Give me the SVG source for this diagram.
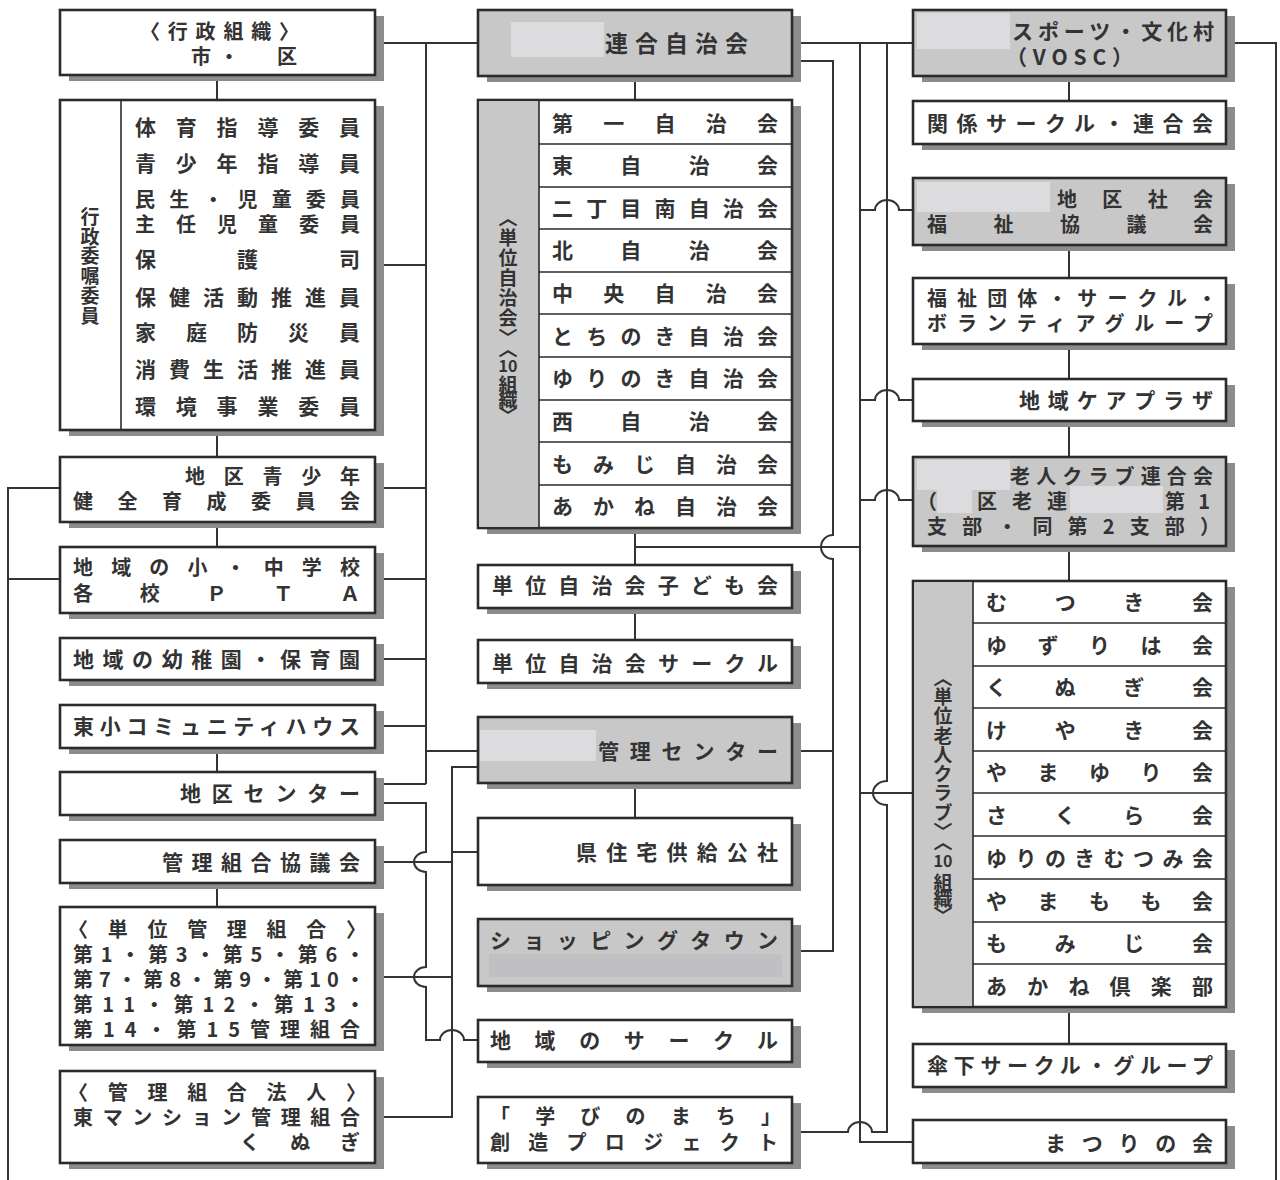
<svg xmlns="http://www.w3.org/2000/svg" width="1280" height="1180" viewBox="0 0 1280 1180">
<style>
.sh{fill:#8c8c8c}
.bx{fill:#ffffff;stroke:#2b2b2b;stroke-width:2.6}
.gx{fill:#c8c8c8;stroke:#2b2b2b;stroke-width:2.6}
.gc{fill:#c8c8c8;stroke:none}
.dv{stroke:#2b2b2b;stroke-width:1.6;fill:none}
.mk{fill:#dcdcde}
.t{font-family:"Noto Sans CJK JP","Noto Sans CJK SC",sans-serif;font-size:21px;font-weight:700;fill:#333}
.m{font-family:"Noto Sans CJK JP","Noto Sans CJK SC",sans-serif;font-size:20px;font-weight:700;fill:#333}
.v{font-family:"Noto Sans CJK JP","Noto Sans CJK SC",sans-serif;font-size:19px;font-weight:700;fill:#333;writing-mode:vertical-rl}
.n{font-family:"Noto Sans CJK JP","Noto Sans CJK SC",sans-serif;font-size:16px;font-weight:700;fill:#333;text-anchor:middle}
.c{fill:none;stroke:#333;stroke-width:2}
</style>
<rect width="1280" height="1180" fill="#ffffff"/>

<g id="connectors" class="c">
<path d="M217,75V100M217,430V457M217,522V547M217,748V772M217,883V907"/>
<path d="M375,43H478M426,43V784M375,265H426M375,488H426M375,579H426M375,659H426M375,726H426M375,784H426M426,751H478"/>
<path d="M60,488H8V1180M60,579H8"/>
<path d="M375,803H426V852A12 10 0 0 0 426,872V967A12 10 0 0 0 426,987V1040H440A12 10 0 0 1 464,1040H478"/>
<path d="M478,767H452V1117H375M452,852H478M375,862H452M375,977H452"/>
<path d="M635,76V100M635,528V565M635,547H860M635,608V640M635,783V818"/>
<path d="M792,43H913M792,61H833V535A12 12 0 0 0 833,559V951H792M792,751H833"/>
<path d="M860,43V1142H913"/>
<path d="M887,43V781A14 12 0 0 0 887,805V1132H872A12 10 0 0 0 848,1132H792"/>
<path d="M860,210H875A12 10 0 0 1 899,210H913M860,400H875A12 10 0 0 1 899,400H913M860,500H875A12 10 0 0 1 899,500H913M860,793H913"/>
<path d="M1069,76V101M1069,245V278M1069,344V379M1069,421V457M1069,546V581M1069,1007V1044"/>
<path d="M1226,43H1276V1180"/>
</g>

<!-- Left column -->
<g id="gyosei">
<rect class="sh" x="69" y="16" width="315" height="65"/>
<rect class="bx" x="60" y="10" width="315" height="65"/>
<text class="m"><tspan x="140" y="39" textLength="159" lengthAdjust="spacing">〈行政組織〉</tspan><tspan x="191" y="64">市</tspan><tspan x="219" y="64">・</tspan><tspan x="277" y="64">区</tspan></text>
</g>
<g id="ishoku">
<rect class="sh" x="69" y="106" width="315" height="330"/>
<rect class="bx" x="60" y="100" width="315" height="330"/>
<line class="dv" x1="121" y1="100" x2="121" y2="430"/>
<text class="v" x="90" y="207" textLength="118" lengthAdjust="spacing">行政委嘱委員</text>
<text class="t" x="135" y="135" textLength="225" lengthAdjust="spacing">体育指導委員</text>
<text class="t" x="135" y="171" textLength="225" lengthAdjust="spacing">青少年指導員</text>
<text class="m"><tspan x="135" y="207" textLength="225" lengthAdjust="spacing">民生・児童委員</tspan><tspan x="135" y="232" textLength="225" lengthAdjust="spacing">主任児童委員</tspan></text>
<text class="t" x="135" y="267" textLength="225" lengthAdjust="spacing">保護司</text>
<text class="t" x="135" y="305" textLength="225" lengthAdjust="spacing">保健活動推進員</text>
<text class="t" x="135" y="340" textLength="225" lengthAdjust="spacing">家庭防災員</text>
<text class="t" x="135" y="377" textLength="225" lengthAdjust="spacing">消費生活推進員</text>
<text class="t" x="135" y="414" textLength="225" lengthAdjust="spacing">環境事業委員</text>
</g>
<g id="seishonen">
<rect class="sh" x="69" y="463" width="315" height="65"/>
<rect class="bx" x="60" y="457" width="315" height="65"/>
<text class="m"><tspan x="185" y="484" textLength="175" lengthAdjust="spacing">地区青少年</tspan><tspan x="73" y="509" textLength="287" lengthAdjust="spacing">健全育成委員会</tspan></text>
</g>
<g id="gakko">
<rect class="sh" x="69" y="553" width="315" height="66"/>
<rect class="bx" x="60" y="547" width="315" height="66"/>
<text class="m"><tspan x="73" y="575" textLength="287" lengthAdjust="spacing">地域の小・中学校</tspan><tspan x="73" y="601" textLength="287" lengthAdjust="spacing">各校ＰＴＡ</tspan></text>
</g>
<g id="yochien">
<rect class="sh" x="69" y="644" width="315" height="42"/>
<rect class="bx" x="60" y="638" width="315" height="42"/>
<text class="t" x="73" y="667" textLength="287" lengthAdjust="spacing">地域の幼稚園・保育園</text>
</g>
<g id="community">
<rect class="sh" x="69" y="711" width="315" height="43"/>
<rect class="bx" x="60" y="705" width="315" height="43"/>
<text class="t" x="73" y="734" textLength="287" lengthAdjust="spacing">東小コミュニティハウス</text>
</g>
<g id="chiku-center">
<rect class="sh" x="69" y="778" width="315" height="43"/>
<rect class="bx" x="60" y="772" width="315" height="43"/>
<text class="t" x="180" y="801" textLength="180" lengthAdjust="spacing">地区センター</text>
</g>
<g id="kanri-kyogikai">
<rect class="sh" x="69" y="846" width="315" height="43"/>
<rect class="bx" x="60" y="840" width="315" height="43"/>
<text class="t" x="162" y="870" textLength="198" lengthAdjust="spacing">管理組合協議会</text>
</g>
<g id="tani-kanri">
<rect class="sh" x="69" y="913" width="315" height="138"/>
<rect class="bx" x="60" y="907" width="315" height="138"/>
<text class="m"><tspan x="68" y="937" textLength="298" lengthAdjust="spacing">〈単位管理組合〉</tspan><tspan x="73" y="962" textLength="292" lengthAdjust="spacing">第1・第3・第5・第6・</tspan><tspan x="73" y="987" textLength="292" lengthAdjust="spacing">第7・第8・第9・第10・</tspan><tspan x="73" y="1012" textLength="292" lengthAdjust="spacing">第11・第12・第13・</tspan><tspan x="73" y="1037" textLength="287" lengthAdjust="spacing">第14・第15管理組合</tspan></text>
</g>
<g id="kanri-hojin">
<rect class="sh" x="69" y="1077" width="315" height="92"/>
<rect class="bx" x="60" y="1071" width="315" height="92"/>
<text class="m"><tspan x="68" y="1100" textLength="298" lengthAdjust="spacing">〈管理組合法人〉</tspan><tspan x="73" y="1125" textLength="287" lengthAdjust="spacing">東マンション管理組合</tspan><tspan x="240" y="1150" textLength="120" lengthAdjust="spacing">くぬぎ</tspan></text>
</g>

<!-- Center column -->
<g id="rengo-jichikai">
<rect class="sh" x="487" y="16" width="314" height="66"/>
<rect class="gx" x="478" y="10" width="314" height="66"/>
<rect class="mk" x="511" y="22" width="93" height="35"/>
<text class="t" x="605" y="52" textLength="143" lengthAdjust="spacing" style="font-size:23px">連合自治会</text>
</g>
<g id="tani-jichikai">
<rect class="sh" x="487" y="106" width="314" height="428"/>
<rect class="bx" x="478" y="100" width="314" height="428"/>
<rect class="gc" x="479.3" y="101.3" width="59.7" height="425.4"/>
<path class="dv" d="M539,100V528M539,144H792M539,187H792M539,229H792M539,272H792M539,314H792M539,357H792M539,400H792M539,442H792M539,485H792"/>
<text class="v" x="508" y="208" textLength="150" lengthAdjust="spacing">〈単位自治会〉〈</text>
<text class="n" x="508" y="372">10</text>
<text class="v" x="508" y="375" textLength="50" lengthAdjust="spacing">組織〉</text>
<text class="t" x="552" y="131" textLength="226" lengthAdjust="spacing">第一自治会</text>
<text class="t" x="552" y="173" textLength="226" lengthAdjust="spacing">東自治会</text>
<text class="t" x="552" y="216" textLength="226" lengthAdjust="spacing">二丁目南自治会</text>
<text class="t" x="552" y="258" textLength="226" lengthAdjust="spacing">北自治会</text>
<text class="t" x="552" y="301" textLength="226" lengthAdjust="spacing">中央自治会</text>
<text class="t" x="552" y="344" textLength="226" lengthAdjust="spacing">とちのき自治会</text>
<text class="t" x="552" y="386" textLength="226" lengthAdjust="spacing">ゆりのき自治会</text>
<text class="t" x="552" y="429" textLength="226" lengthAdjust="spacing">西自治会</text>
<text class="t" x="552" y="472" textLength="226" lengthAdjust="spacing">もみじ自治会</text>
<text class="t" x="552" y="514" textLength="226" lengthAdjust="spacing">あかね自治会</text>
</g>
<g id="kodomokai">
<rect class="sh" x="487" y="571" width="314" height="43"/>
<rect class="bx" x="478" y="565" width="314" height="43"/>
<text class="t" x="492" y="593" textLength="286" lengthAdjust="spacing">単位自治会子ども会</text>
</g>
<g id="jichikai-circle">
<rect class="sh" x="487" y="646" width="314" height="43"/>
<rect class="bx" x="478" y="640" width="314" height="43"/>
<text class="t" x="492" y="671" textLength="286" lengthAdjust="spacing">単位自治会サークル</text>
</g>
<g id="kanri-center">
<rect class="sh" x="487" y="723" width="314" height="66"/>
<rect class="gx" x="478" y="717" width="314" height="66"/>
<rect class="mk" x="480" y="730" width="116" height="31"/>
<text class="t" x="598" y="759" textLength="180" lengthAdjust="spacing">管理センター</text>
</g>
<g id="kenjutaku">
<rect class="sh" x="487" y="824" width="314" height="67"/>
<rect class="bx" x="478" y="818" width="314" height="67"/>
<text class="t" x="576" y="860" textLength="202" lengthAdjust="spacing">県住宅供給公社</text>
</g>
<g id="shopping">
<rect class="sh" x="487" y="925" width="314" height="67"/>
<rect class="gx" x="478" y="919" width="314" height="67"/>
<rect x="489" y="954" width="293" height="23" fill="#c0c0c2"/>
<text class="t" x="490" y="948" textLength="288" lengthAdjust="spacing">ショッピングタウン</text>
</g>
<g id="chiiki-circle">
<rect class="sh" x="487" y="1026" width="314" height="42"/>
<rect class="bx" x="478" y="1020" width="314" height="42"/>
<text class="t" x="490" y="1048" textLength="288" lengthAdjust="spacing">地域のサークル</text>
</g>
<g id="manabi">
<rect class="sh" x="487" y="1103" width="314" height="66"/>
<rect class="bx" x="478" y="1097" width="314" height="66"/>
<text class="m"><tspan x="490" y="1124" textLength="291" lengthAdjust="spacing">「学びのまち」</tspan><tspan x="490" y="1150" textLength="288" lengthAdjust="spacing">創造プロジェクト</tspan></text>
</g>

<!-- Right column -->
<g id="vosc">
<rect class="sh" x="922" y="16" width="313" height="66"/>
<rect class="gx" x="913" y="10" width="313" height="66"/>
<rect class="mk" x="917" y="13" width="93" height="36"/>
<text class="m" style="font-size:21px"><tspan x="1012" y="39" textLength="202" lengthAdjust="spacing">スポーツ・文化村</tspan><tspan x="1006" y="65" textLength="127" lengthAdjust="spacing">（VOSC）</tspan></text>
</g>
<g id="kankei-circle">
<rect class="sh" x="922" y="107" width="313" height="43"/>
<rect class="bx" x="913" y="101" width="313" height="43"/>
<text class="t" x="927" y="131" textLength="286" lengthAdjust="spacing">関係サークル・連合会</text>
</g>
<g id="shakyo">
<rect class="sh" x="922" y="184" width="313" height="67"/>
<rect class="gx" x="913" y="178" width="313" height="67"/>
<rect class="mk" x="917" y="182" width="133" height="30"/>
<text class="m"><tspan x="1057" y="207" textLength="156" lengthAdjust="spacing">地区社会</tspan><tspan x="927" y="232" textLength="286" lengthAdjust="spacing">福祉協議会</tspan></text>
</g>
<g id="fukushi-dantai">
<rect class="sh" x="922" y="284" width="313" height="66"/>
<rect class="bx" x="913" y="278" width="313" height="66"/>
<text class="m"><tspan x="927" y="306" textLength="290" lengthAdjust="spacing">福祉団体・サークル・</tspan><tspan x="927" y="331" textLength="286" lengthAdjust="spacing">ボランティアグループ</tspan></text>
</g>
<g id="careplaza">
<rect class="sh" x="922" y="385" width="313" height="42"/>
<rect class="bx" x="913" y="379" width="313" height="42"/>
<text class="t" x="1019" y="408" textLength="194" lengthAdjust="spacing">地域ケアプラザ</text>
</g>
<g id="rojin-rengo">
<rect class="sh" x="922" y="463" width="313" height="89"/>
<rect class="gx" x="913" y="457" width="313" height="89"/>
<rect class="mk" x="917" y="460" width="93" height="30"/>
<rect class="mk" x="937" y="490" width="35" height="23"/>
<rect class="mk" x="1070" y="486" width="93" height="27"/>
<text class="m"><tspan x="1010" y="484" textLength="203" lengthAdjust="spacing">老人クラブ連合会</tspan><tspan x="917" y="509">（</tspan><tspan x="977" y="509" textLength="90" lengthAdjust="spacing">区老連</tspan><tspan x="1165" y="509" textLength="45" lengthAdjust="spacing">第1</tspan><tspan x="927" y="534" textLength="293" lengthAdjust="spacing">支部・同第2支部）</tspan></text>
</g>
<g id="tani-rojin">
<rect class="sh" x="922" y="587" width="313" height="426"/>
<rect class="bx" x="913" y="581" width="313" height="426"/>
<rect class="gc" x="914.3" y="582.3" width="58.7" height="423.4"/>
<path class="dv" d="M973,581V1007M973,623H1226M973,666H1226M973,708H1226M973,751H1226M973,793H1226M973,836H1226M973,879H1226M973,922H1226M973,964H1226"/>
<text class="v" x="943" y="668" textLength="183" lengthAdjust="spacing">〈単位老人クラブ〉〈</text>
<text class="n" x="943" y="867">10</text>
<text class="v" x="943" y="873" textLength="52" lengthAdjust="spacing">組織〉</text>
<text class="t" x="986" y="610" textLength="227" lengthAdjust="spacing">むつき会</text>
<text class="t" x="986" y="653" textLength="227" lengthAdjust="spacing">ゆずりは会</text>
<text class="t" x="986" y="695" textLength="227" lengthAdjust="spacing">くぬぎ会</text>
<text class="t" x="986" y="738" textLength="227" lengthAdjust="spacing">けやき会</text>
<text class="t" x="986" y="780" textLength="227" lengthAdjust="spacing">やまゆり会</text>
<text class="t" x="986" y="823" textLength="227" lengthAdjust="spacing">さくら会</text>
<text class="t" x="986" y="866" textLength="227" lengthAdjust="spacing">ゆりのきむつみ会</text>
<text class="t" x="986" y="909" textLength="227" lengthAdjust="spacing">やまもも会</text>
<text class="t" x="986" y="951" textLength="227" lengthAdjust="spacing">もみじ会</text>
<text class="t" x="986" y="994" textLength="227" lengthAdjust="spacing">あかね倶楽部</text>
</g>
<g id="sanka-circle">
<rect class="sh" x="922" y="1050" width="313" height="43"/>
<rect class="bx" x="913" y="1044" width="313" height="43"/>
<text class="t" x="927" y="1073" textLength="286" lengthAdjust="spacing">傘下サークル・グループ</text>
</g>
<g id="matsuri">
<rect class="sh" x="922" y="1126" width="313" height="43"/>
<rect class="bx" x="913" y="1120" width="313" height="43"/>
<text class="t" x="1045" y="1151" textLength="168" lengthAdjust="spacing">まつりの会</text>
</g>
</svg>
